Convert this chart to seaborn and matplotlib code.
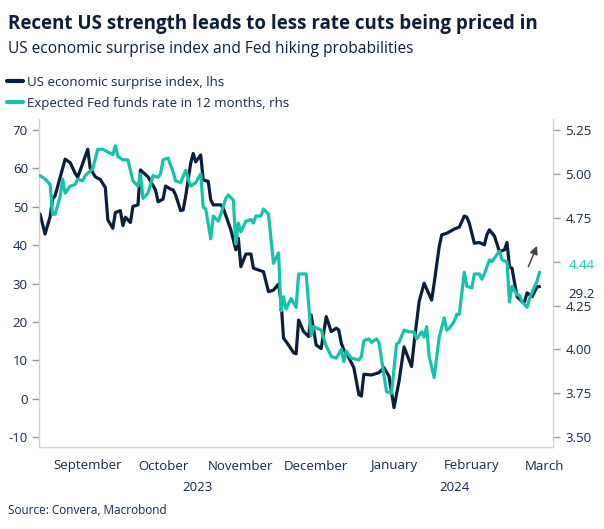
import pandas as pd
import matplotlib
matplotlib.use('Agg')
import matplotlib.pyplot as plt
import matplotlib.dates as mdates
import matplotlib.transforms as mtransforms
from matplotlib.lines import Line2D
import seaborn as sns

NAVY = '#0a1f3c'
TEAL = '#13c4a9'
GREY = '#d2d2d2'
TEXT = '#14284b'

# ---- data ----
surprise_dates = [
    '2023-08-28', '2023-08-30', '2023-09-01', '2023-09-02', '2023-09-03', '2023-09-07', '2023-09-09',
    '2023-09-11', '2023-09-12', '2023-09-14', '2023-09-16', '2023-09-17', '2023-09-19', '2023-09-21',
    '2023-09-23', '2023-09-24', '2023-09-26', '2023-09-27', '2023-09-29', '2023-09-30', '2023-10-01',
    '2023-10-03', '2023-10-04', '2023-10-06', '2023-10-07', '2023-10-10', '2023-10-13', '2023-10-14',
    '2023-10-16', '2023-10-17', '2023-10-19', '2023-10-20', '2023-10-21', '2023-10-23', '2023-10-24',
    '2023-10-25', '2023-10-27', '2023-10-28', '2023-10-29', '2023-10-31', '2023-11-01', '2023-11-03',
    '2023-11-04', '2023-11-05', '2023-11-08', '2023-11-09', '2023-11-12', '2023-11-14', '2023-11-15',
    '2023-11-16', '2023-11-18', '2023-11-20', '2023-11-21', '2023-11-25', '2023-11-27', '2023-11-29',
    '2023-12-01', '2023-12-02', '2023-12-03', '2023-12-05', '2023-12-07', '2023-12-08', '2023-12-09',
    '2023-12-11', '2023-12-13', '2023-12-14', '2023-12-16', '2023-12-18', '2023-12-20', '2023-12-22',
    '2023-12-24', '2023-12-25', '2023-12-26', '2023-12-27', '2023-12-29', '2023-12-31', '2024-01-02',
    '2024-01-03', '2024-01-04', '2024-01-07', '2024-01-10', '2024-01-12', '2024-01-14', '2024-01-16',
    '2024-01-18', '2024-01-20', '2024-01-23', '2024-01-24', '2024-01-26', '2024-01-28', '2024-01-31',
    '2024-02-01', '2024-02-03', '2024-02-04', '2024-02-06', '2024-02-09', '2024-02-11', '2024-02-13',
    '2024-02-14', '2024-02-15', '2024-02-17', '2024-02-19', '2024-02-21', '2024-02-22', '2024-02-23',
    '2024-02-25', '2024-02-27', '2024-02-29', '2024-03-01', '2024-03-02', '2024-03-03', '2024-03-05',
    '2024-03-07', '2024-03-08', '2024-03-09', '2024-03-11', '2024-03-13', '2024-03-14',
]
surprise_values = [
    48.1, 42.9, 47.4, 52.0, 52.9, 62.4, 61.5,
    58.7, 57.7, 61.3, 65.0, 60.0, 57.8, 57.1,
    55.0, 46.6, 44.4, 48.5, 49.0, 45.1, 47.3,
    45.9, 50.1, 50.5, 59.6, 57.8, 54.4, 51.3,
    52.0, 55.4, 54.6, 54.4, 53.1, 49.0, 49.2,
    52.7, 61.3, 63.9, 61.7, 63.5, 57.0, 56.6,
    51.8, 50.5, 50.5, 49.6, 44.0, 38.8, 41.8,
    34.4, 37.7, 37.7, 34.0, 33.1, 27.9, 28.3,
    29.9, 25.3, 15.8, 14.0, 12.0, 11.7, 20.5,
    17.5, 16.2, 21.8, 14.0, 13.1, 21.4, 17.5,
    18.4, 17.9, 14.5, 12.8, 10.7, 8.1, 1.1,
    0.7, 6.4, 6.2, 6.8, 8.1, 5.9, -2.3,
    4.6, 13.5, 8.4, 14.5, 25.3, 30.1, 25.7,
    30.1, 39.6, 42.7, 43.1, 44.2, 44.7, 47.6,
    47.3, 45.7, 40.5, 40.7, 40.1, 42.7, 44.0,
    42.4, 38.3, 38.8, 40.7, 34.4, 34.0, 26.6,
    25.3, 25.3, 27.6, 26.6, 29.2, 29.2,
]

fedrate_dates = [
    '2023-08-28', '2023-08-30', '2023-09-01', '2023-09-02', '2023-09-03', '2023-09-05', '2023-09-06',
    '2023-09-07', '2023-09-09', '2023-09-11', '2023-09-12', '2023-09-14', '2023-09-15', '2023-09-18',
    '2023-09-20', '2023-09-22', '2023-09-26', '2023-09-27', '2023-09-28', '2023-09-30', '2023-10-02',
    '2023-10-04', '2023-10-06', '2023-10-07', '2023-10-08', '2023-10-10', '2023-10-12', '2023-10-14',
    '2023-10-15', '2023-10-16', '2023-10-18', '2023-10-20', '2023-10-21', '2023-10-23', '2023-10-25',
    '2023-10-27', '2023-10-29', '2023-10-31', '2023-11-01', '2023-11-02', '2023-11-04', '2023-11-05',
    '2023-11-07', '2023-11-08', '2023-11-10', '2023-11-11', '2023-11-13', '2023-11-14', '2023-11-15',
    '2023-11-16', '2023-11-18', '2023-11-20', '2023-11-21', '2023-11-22', '2023-11-24', '2023-11-25',
    '2023-11-27', '2023-11-29', '2023-12-01', '2023-12-02', '2023-12-03', '2023-12-04', '2023-12-06',
    '2023-12-08', '2023-12-09', '2023-12-12', '2023-12-14', '2023-12-15', '2023-12-18', '2023-12-20',
    '2023-12-22', '2023-12-24', '2023-12-26', '2023-12-27', '2023-12-28', '2023-12-30', '2024-01-02',
    '2024-01-03', '2024-01-04', '2024-01-06', '2024-01-07', '2024-01-09', '2024-01-10', '2024-01-13',
    '2024-01-15', '2024-01-17', '2024-01-18', '2024-01-20', '2024-01-22', '2024-01-24', '2024-01-25',
    '2024-01-27', '2024-01-28', '2024-01-29', '2024-01-30', '2024-02-01', '2024-02-03', '2024-02-05',
    '2024-02-06', '2024-02-07', '2024-02-09', '2024-02-10', '2024-02-11', '2024-02-13', '2024-02-14',
    '2024-02-16', '2024-02-17', '2024-02-19', '2024-02-20', '2024-02-21', '2024-02-23', '2024-02-24',
    '2024-02-27', '2024-02-28', '2024-03-01', '2024-03-02', '2024-03-03', '2024-03-05', '2024-03-06',
    '2024-03-07', '2024-03-09', '2024-03-10', '2024-03-12', '2024-03-13', '2024-03-14',
]
fedrate_values = [
    4.99, 4.97, 4.94, 4.77, 4.77, 4.87, 4.97,
    4.89, 4.93, 4.94, 4.97, 4.96, 4.99, 5.03,
    5.14, 5.14, 5.11, 5.16, 5.10, 5.08, 5.08,
    4.96, 4.93, 5.00, 4.86, 4.89, 4.99, 4.98,
    5.00, 5.08, 5.09, 5.01, 4.96, 4.95, 5.02,
    4.93, 4.95, 5.00, 4.81, 4.80, 4.63, 4.76,
    4.73, 4.77, 4.86, 4.88, 4.85, 4.60, 4.72,
    4.67, 4.73, 4.74, 4.72, 4.76, 4.76, 4.80,
    4.77, 4.49, 4.55, 4.22, 4.30, 4.23, 4.29,
    4.24, 4.43, 4.43, 4.08, 4.13, 4.11, 4.02,
    3.96, 3.95, 4.00, 3.93, 3.99, 3.95, 3.94,
    3.96, 4.05, 4.06, 4.04, 4.06, 4.04, 3.76,
    3.75, 4.03, 4.04, 4.11, 4.10, 4.10, 4.06,
    4.10, 4.07, 4.13, 3.96, 3.84, 4.07, 4.18,
    4.11, 4.12, 4.16, 4.20, 4.20, 4.44, 4.36,
    4.35, 4.43, 4.43, 4.40, 4.43, 4.51, 4.50,
    4.56, 4.51, 4.50, 4.27, 4.36, 4.31, 4.31,
    4.27, 4.24, 4.29, 4.36, 4.39, 4.44,
]

left_ticks = [-10, 0, 10, 20, 30, 40, 50, 60, 70]
right_ticks = [3.50, 3.75, 4.00, 4.25, 4.50, 4.75, 5.00, 5.25]
month_names = ['September', 'October', 'November', 'December', 'January', 'February', 'March']
month_starts = ['2023-09-01', '2023-10-01', '2023-11-01', '2023-12-01', '2024-01-01', '2024-02-01', '2024-03-01']
years = ['2023', '2024']

title = 'Recent US strength leads to less rate cuts being priced in'
subtitle = 'US economic surprise index and Fed hiking probabilities'
label_surprise = 'US economic surprise index, lhs'
label_fed = 'Expected Fed funds rate in 12 months, rhs'
source = 'Source: Convera, Macrobond'

surprise = pd.DataFrame({'date': pd.to_datetime(surprise_dates), 'value': surprise_values})
fedrate = pd.DataFrame({'date': pd.to_datetime(fedrate_dates), 'value': fedrate_values})

# ---- style ----
sns.set_style('white')
plt.rcParams['font.family'] = ['Open Sans', 'DejaVu Sans']
plt.rcParams['text.color'] = TEXT

fig = plt.figure(figsize=(6.04, 5.29), dpi=100)
ax = fig.add_axes([39 / 604, 82 / 529, 514 / 604, 328 / 529])
ax2 = ax.twinx()

sns.lineplot(data=surprise, x='date', y='value', ax=ax, color=NAVY, linewidth=2.3, legend=False)
sns.lineplot(data=fedrate, x='date', y='value', ax=ax2, color=TEAL, linewidth=2.3, legend=False)

# both y axes share the same grid: 70 <-> 5.25 and -10 <-> 3.50
lo, hi = -12.55, 72.86
ax.set_ylim(lo, hi)
scale = (5.25 - 3.50) / 80
ax2.set_ylim(3.50 + (lo + 10) * scale, 3.50 + (hi + 10) * scale)

xmin, xmax = pd.Timestamp('2023-08-27 14:00'), pd.Timestamp('2024-03-19 08:00')
ax.set_xlim(xmin, xmax)

for a in (ax, ax2):
    a.set_xlabel('')
    a.set_ylabel('')
    for side in ('top', 'left', 'right', 'bottom'):
        a.spines[side].set_visible(False)

ax.spines['left'].set_visible(True)
ax.spines['bottom'].set_visible(True)
ax2.spines['right'].set_visible(True)
for sp in (ax.spines['left'], ax.spines['bottom'], ax2.spines['right']):
    sp.set_color(GREY)
    sp.set_linewidth(1.0)

ax.set_yticks(left_ticks)
ax.set_yticklabels([str(t) for t in left_ticks])
ax2.set_yticks(right_ticks)
ax2.set_yticklabels(['' if abs(t - 4.5) < 1e-9 else f'{t:.2f}' for t in right_ticks])
ax.tick_params(axis='y', length=5, width=1, color='#9a9a9a', labelcolor=TEXT, labelsize=9.5, pad=3)
ax2.tick_params(axis='y', length=5, width=1, color='#9a9a9a', labelcolor=TEXT, labelsize=9.5, pad=4)

# month ticks at starts, labels mid-month
starts = pd.to_datetime(month_starts)
mids = starts + pd.Timedelta(days=15)
ax.set_xticks(starts)
ax.set_xticklabels([''] * len(starts))
ax.set_xticks(mids, minor=True)
ax.set_xticklabels(month_names, minor=True)
ax.tick_params(axis='x', which='major', length=4, width=1, color='#9a9a9a', direction='out')
ax.tick_params(axis='x', which='minor', length=0, labelcolor=TEXT, labelsize=9.5, pad=9)

# year labels centred on the visible part of each year
trans = mtransforms.blended_transform_factory(ax.transData, ax.transAxes)
year_spans = [(xmin, pd.Timestamp('2024-01-01')), (pd.Timestamp('2024-01-01'), xmax)]
for yr, (a, b) in zip(years, year_spans):
    mid = a + (b - a) / 2
    ax.text(mdates.date2num(mid), -0.122, yr, transform=trans, ha='center', va='center',
            fontsize=9.5, color=TEXT)

# end-of-series value labels
last_fed = fedrate_values[-1]
last_sur = surprise_values[-1]
ax2.annotate(f'{last_fed:.2f}', xy=(1, last_fed), xycoords=('axes fraction', 'data'),
             xytext=(11, 4.5), textcoords='offset points', ha='left', va='center',
             fontsize=9.5, color=TEAL)
lbl = ax2.annotate(f'{last_sur:.1f}', xy=(1, last_sur * scale + 3.50 + 10 * scale),
                   xycoords=('axes fraction', 'data'),
                   xytext=(11, -5.5), textcoords='offset points', ha='left', va='center',
                   fontsize=9.5, color=TEXT,
                   bbox=dict(boxstyle='square,pad=0.1', fc='white', ec='none'))
lbl.set_zorder(10)

# arrow hinting at the move higher
ax2.annotate('', xy=(0.971, 0.621), xytext=(0.950, 0.542), xycoords='axes fraction',
             arrowprops=dict(arrowstyle='-|>', color='#444444', lw=1.1, mutation_scale=12))

# titles
fig.text(8 / 604, 1 - 29.5 / 529, title, fontsize=13.5, fontweight='bold', color=NAVY, va='baseline')
fig.text(8 / 604, 1 - 53 / 529, subtitle, fontsize=11.2, color=NAVY, va='baseline')

handles = [Line2D([], [], color=NAVY, lw=3), Line2D([], [], color=TEAL, lw=3)]
fig.legend(handles, [label_surprise, label_fed], loc='upper left',
           bbox_to_anchor=(7 / 604, 1 - 76 / 529), frameon=False, fontsize=9.5,
           handlelength=1.2, handletextpad=0.35, labelspacing=0.6, borderpad=0,
           borderaxespad=0, labelcolor=TEXT)

fig.text(8 / 604, 1 - 510 / 529, source, fontsize=8.5, color=TEXT, va='center')

fig.savefig('out.png', dpi=100)
